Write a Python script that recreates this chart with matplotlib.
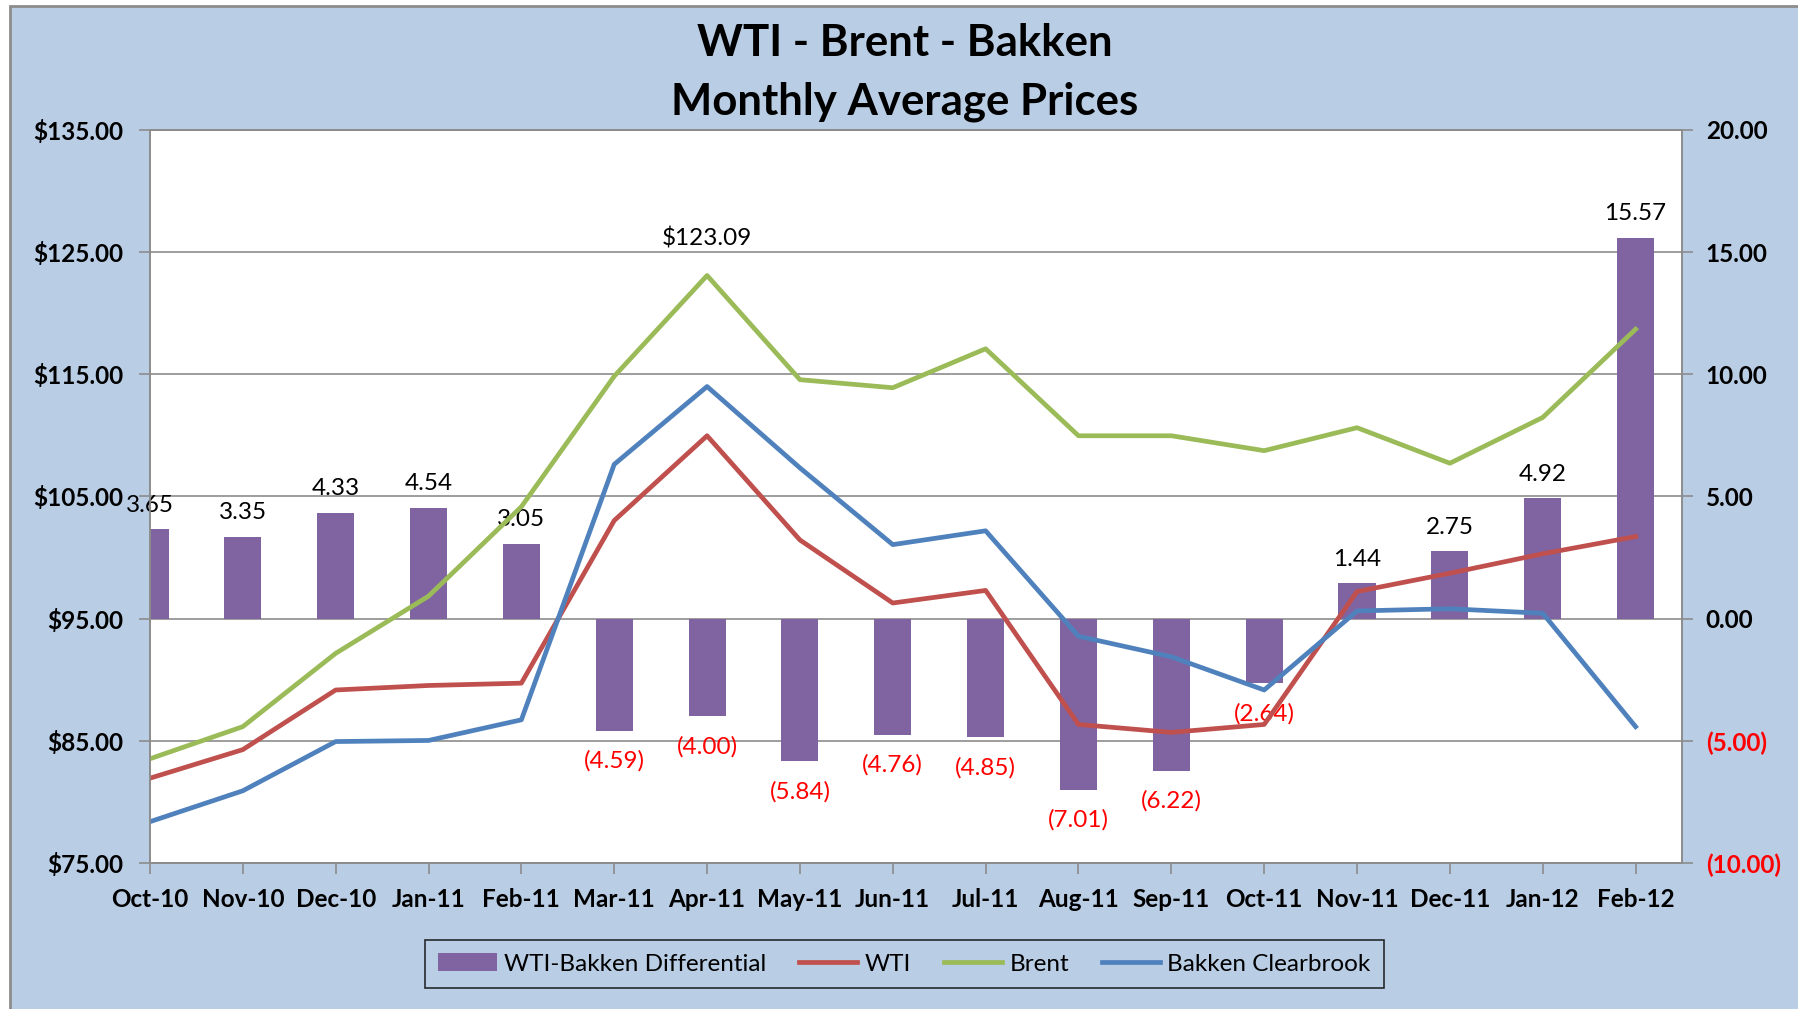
import numpy as np
import matplotlib
matplotlib.use("Agg")
import matplotlib.pyplot as plt
from matplotlib.patches import Rectangle, Patch
from matplotlib.lines import Line2D

plt.rcParams['font.family'] = ['Lato', 'DejaVu Sans']

# data
months = ["Oct-10", "Nov-10", "Dec-10", "Jan-11", "Feb-11", "Mar-11", "Apr-11",
          "May-11", "Jun-11", "Jul-11", "Aug-11", "Sep-11", "Oct-11", "Nov-11",
          "Dec-11", "Jan-12", "Feb-12"]
differential = [3.65, 3.35, 4.33, 4.54, 3.05, -4.59, -4.00, -5.84, -4.76, -4.85,
                -7.01, -6.22, -2.64, 1.44, 2.75, 4.92, 15.57]
wti = [81.94, 84.28, 89.16, 89.53, 89.72, 103.03, 109.97, 101.44, 96.28, 97.31,
       86.34, 85.69, 86.34, 97.22, 98.72, 100.31, 101.72]
brent = [83.53, 86.16, 92.16, 96.84, 104.16, 114.84, 123.09, 114.56, 113.90,
         117.09, 109.97, 109.97, 108.75, 110.63, 107.72, 111.47, 118.69]
bakken = [78.38, 80.91, 84.94, 85.03, 86.72, 107.63, 114.00, 107.34, 101.06,
          102.19, 93.56, 91.88, 89.16, 95.63, 95.81, 95.44, 86.16]

left_ticks = [75, 85, 95, 105, 115, 125, 135]
right_ticks = [-10, -5, 0, 5, 10, 15, 20]

BG = "#B9CDE5"
PURPLE = "#8064A2"
RED = "#C0504D"
GREEN = "#9BBB59"
BLUE = "#4F81BD"
FS = 17.5

fig = plt.figure(figsize=(17.98, 10.09), dpi=100, facecolor="white")
fig.patches.append(Rectangle((0.0056, -0.01), 1.1, 1.004, transform=fig.transFigure,
                             facecolor=BG, edgecolor="#8c8c8c", linewidth=2, zorder=-10))

ax2 = fig.add_axes([0.0834, 0.1447, 0.8521, 0.7265])
ax = ax2.twinx()
ax.set_zorder(ax2.get_zorder() + 1)
ax.patch.set_visible(False)
ax2.set_facecolor("white")

x = np.arange(len(months))

# bars on the right-hand axis
ax2.bar(x, differential, width=0.4, color=PURPLE, zorder=2)
ax2.set_ylim(-10, 20)
ax2.set_yticks(right_ticks)
ax2.grid(axis="y", color="#8c8c8c", linewidth=1.2, zorder=0)
ax2.set_axisbelow(True)
ax2.yaxis.tick_right()
ax2.yaxis.set_label_position("right")

for xi, d in zip(x, differential):
    if d >= 0:
        ax2.annotate(f"{d:.2f}", (xi, d), xytext=(0, 10), textcoords="offset points",
                     ha="center", va="bottom", fontsize=FS, color="black")
    else:
        ax2.annotate(f"({abs(d):.2f})", (xi, d), xytext=(0, -14), textcoords="offset points",
                     ha="center", va="top", fontsize=FS, color="red")

# price lines on the left-hand axis
ax.plot(x, wti, color=RED, linewidth=3.4)
ax.plot(x, brent, color=GREEN, linewidth=3.4)
ax.plot(x, bakken, color=BLUE, linewidth=3.4)
ax.set_ylim(75, 135)
ax.set_yticks(left_ticks)
ax.yaxis.tick_left()
ax.yaxis.set_label_position("left")

peak = int(np.argmax(brent))
ax.annotate(f"${brent[peak]:.2f}", (x[peak], brent[peak]), xytext=(0, 19),
            textcoords="offset points", ha="center", va="bottom", fontsize=FS)

ax2.set_xlim(0, len(months) - 0.5)
ax2.set_xticks(x)
ax2.set_xticklabels(months, fontsize=FS, fontweight="bold")

ax.set_yticklabels([f"${v:.2f}" for v in left_ticks], fontsize=FS, fontweight="bold")
ax2.set_yticklabels([f"{v:.2f}" if v >= 0 else f"({abs(v):.2f})" for v in right_ticks],
                    fontsize=FS, fontweight="bold")
for lab, v in zip(ax2.get_yticklabels(), right_ticks):
    if v < 0:
        lab.set_color("red")

for a in (ax, ax2):
    for s in a.spines.values():
        s.set_color("#8c8c8c")
        s.set_linewidth(1.2)
    a.tick_params(axis="both", length=8, width=1.2, color="#8c8c8c")
ax.tick_params(axis="y", pad=11)
ax2.tick_params(axis="y", pad=9)
ax2.tick_params(axis="x", pad=10)

fig.text(0.503, 0.957, "WTI - Brent - Bakken", ha="center", va="center",
         fontsize=31.5, fontweight="bold")
fig.text(0.503, 0.899, "Monthly Average Prices", ha="center", va="center",
         fontsize=31.5, fontweight="bold")

handles = [Patch(facecolor=PURPLE), Line2D([], [], color=RED, linewidth=3.4),
           Line2D([], [], color=GREEN, linewidth=3.4), Line2D([], [], color=BLUE, linewidth=3.4)]
labels = ["WTI-Bakken Differential", "WTI", "Brent", "Bakken Clearbrook"]
leg = fig.legend(handles, labels, loc="center", bbox_to_anchor=(0.503, 0.0446), ncol=4,
                 fontsize=FS, frameon=True, fancybox=False, handlelength=2.4,
                 handletextpad=0.3, columnspacing=1.35, borderpad=0.55)
leg.get_frame().set_edgecolor("black")
leg.get_frame().set_linewidth(1.2)
leg.get_frame().set_facecolor(BG)

fig.savefig("out.png", dpi=100)
